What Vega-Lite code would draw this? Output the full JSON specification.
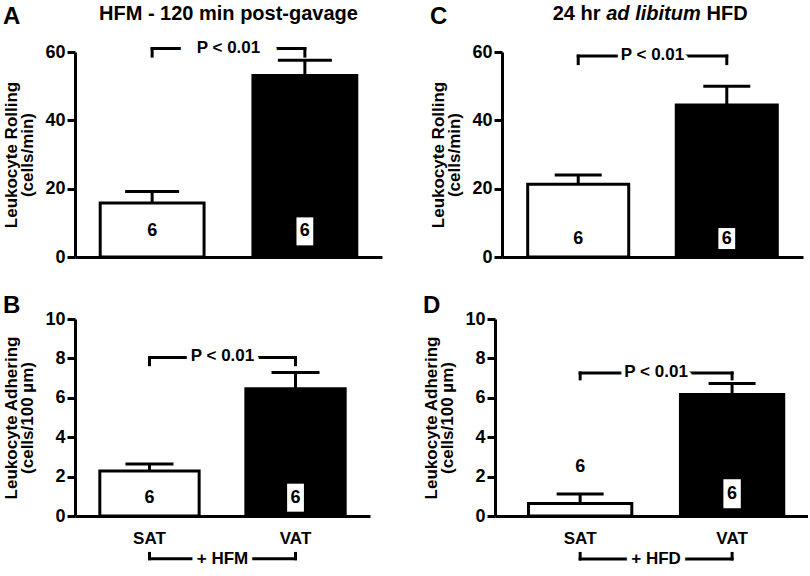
{
  "$schema": "https://vega.github.io/schema/vega-lite/v6.json",
  "background": "white",
  "padding": {"left": 2, "top": 3, "right": 0, "bottom": 0},
  "config": {
    "view": {"stroke": null},
    "font": "Liberation Sans",
    "axis": {"domainColor": "black", "domainWidth": 3, "tickColor": "black", "tickWidth": 3, "tickSize": 8, "labelFont": "Liberation Sans", "labelFontSize": 18, "labelFontWeight": "bold", "labelColor": "black", "labelPadding": 2, "labelOverlap": false, "labelFlush": false, "titleFont": "Liberation Sans", "titleFontSize": 17, "titleFontWeight": "bold", "titleColor": "black", "titlePadding": 8, "titleLineHeight": 16, "grid": false},
    "axisY": {"tickCount": 12},
    "axisX": {"ticks": false, "tickSize": 0, "labelFontSize": 17, "labelPadding": 14, "labelAngle": 0},
    "text": {"font": "Liberation Sans", "fontWeight": "bold", "color": "black", "fontSize": 17},
    "title": {"font": "Liberation Sans", "fontSize": 24, "fontWeight": "bold", "color": "black", "anchor": "start", "frame": "bounds"}
  },
  "datasets": {
    "bars": [
      {"panel": "A", "group": "SAT", "value": 15.8, "err": 19.2, "n": 6},
      {"panel": "A", "group": "VAT", "value": 53.1, "err": 57.6, "n": 6},
      {"panel": "B", "group": "SAT", "value": 2.28, "err": 2.64, "n": 6},
      {"panel": "B", "group": "VAT", "value": 6.46, "err": 7.29, "n": 6},
      {"panel": "C", "group": "SAT", "value": 21.3, "err": 24.0, "n": 6},
      {"panel": "C", "group": "VAT", "value": 44.5, "err": 50.0, "n": 6},
      {"panel": "D", "group": "SAT", "value": 0.64, "err": 1.12, "n": 6},
      {"panel": "D", "group": "VAT", "value": 6.17, "err": 6.73, "n": 6}
    ],
    "pair": [{"group": "SAT", "group2": "VAT"}],
    "ends": [{"group": "SAT"}, {"group": "VAT"}],
    "mid": [{"group": "SAT"}]
  },
  "spacing": 28,
  "vconcat": [
    {
      "spacing": 47,
      "hconcat": [
        {
          "width": 307, "height": 205,
          "title": {"text": "A", "offset": -25},
          "layer": [
            {"data": {"name": "bars"}, "transform": [{"filter": "datum.panel === 'A'"}],
             "mark": {"type": "bar", "stroke": "black", "strokeWidth": 3},
             "encoding": {
               "x": {"field": "group", "type": "nominal", "scale": {"domain": ["SAT", "VAT"], "paddingInner": 0.32, "paddingOuter": 0.165}, "axis": {"title": null, "labels": false}},
               "y": {"field": "value", "type": "quantitative", "scale": {"domain": [0, 60], "nice": false}, "axis": {"values": [0, 20, 40, 60], "title": ["Leukocyte Rolling", "(cells/min)"]}},
               "fill": {"field": "group", "type": "nominal", "scale": {"domain": ["SAT", "VAT"], "range": ["white", "black"]}, "legend": null}
             }},
            {"data": {"name": "bars"}, "transform": [{"filter": "datum.panel === 'A'"}],
             "mark": {"type": "rule", "strokeWidth": 3, "color": "black"},
             "encoding": {"x": {"field": "group", "type": "nominal"}, "y": {"field": "value", "type": "quantitative"}, "y2": {"field": "err"}}},
            {"data": {"name": "bars"}, "transform": [{"filter": "datum.panel === 'A'"}],
             "mark": {"type": "tick", "size": 54, "thickness": 3, "color": "black", "opacity": 1},
             "encoding": {"x": {"field": "group", "type": "nominal"}, "y": {"field": "err", "type": "quantitative"}}},
            {"data": {"name": "bars"}, "transform": [{"filter": "datum.panel === 'A' && datum.group === 'VAT'"}],
             "mark": {"type": "point", "shape": "M-0.6,-1H0.6V1H-0.6Z", "size": 784, "filled": true, "color": "white", "opacity": 1, "strokeWidth": 0},
             "encoding": {"x": {"field": "group", "type": "nominal"}, "y": {"datum": 7.5}}},
            {"data": {"name": "bars"}, "transform": [{"filter": "datum.panel === 'A'"}],
             "mark": {"type": "text", "fontSize": 18},
             "encoding": {"x": {"field": "group", "type": "nominal"}, "y": {"datum": 7.5}, "text": {"field": "n"}}},
            {"data": {"name": "pair"},
             "mark": {"type": "rule", "strokeWidth": 3, "strokeCap": "square", "color": "black"},
             "encoding": {"x": {"field": "group", "type": "nominal"}, "x2": {"field": "group2"}, "y": {"datum": 61}}},
            {"data": {"name": "ends"},
             "mark": {"type": "rule", "strokeWidth": 3, "strokeCap": "square", "color": "black"},
             "encoding": {"x": {"field": "group", "type": "nominal"}, "y": {"datum": 58.8}, "y2": {"datum": 61}}},
            {"data": {"name": "mid"},
             "mark": {"type": "text", "text": "P < 0.01", "fontSize": 17, "color": "white", "stroke": "white", "strokeWidth": 34, "strokeJoin": "round"},
             "encoding": {"x": {"field": "group", "type": "nominal", "bandPosition": 1.235}, "y": {"datum": 61.3}}},
            {"data": {"name": "mid"},
             "mark": {"type": "text", "text": "P < 0.01", "fontSize": 17, "color": "black"},
             "encoding": {"x": {"field": "group", "type": "nominal", "bandPosition": 1.235}, "y": {"datum": 61.3}}},
            {"data": {"name": "mid"},
             "mark": {"type": "text", "text": "HFM - 120 min post-gavage", "fontSize": 20, "color": "black"},
             "encoding": {"x": {"field": "group", "type": "nominal", "bandPosition": 1.235}, "y": {"datum": 71.2}}}
          ]
        },
        {
          "width": 301, "height": 205,
          "title": {"text": "C", "offset": -25},
          "layer": [
            {"data": {"name": "bars"}, "transform": [{"filter": "datum.panel === 'C'"}],
             "mark": {"type": "bar", "stroke": "black", "strokeWidth": 3},
             "encoding": {
               "x": {"field": "group", "type": "nominal", "scale": {"domain": ["SAT", "VAT"], "paddingInner": 0.32, "paddingOuter": 0.173}, "axis": {"title": null, "labels": false}},
               "y": {"field": "value", "type": "quantitative", "scale": {"domain": [0, 60], "nice": false}, "axis": {"values": [0, 20, 40, 60], "title": ["Leukocyte Rolling", "(cells/min)"]}},
               "fill": {"field": "group", "type": "nominal", "scale": {"domain": ["SAT", "VAT"], "range": ["white", "black"]}, "legend": null}
             }},
            {"data": {"name": "bars"}, "transform": [{"filter": "datum.panel === 'C'"}],
             "mark": {"type": "rule", "strokeWidth": 3, "color": "black"},
             "encoding": {"x": {"field": "group", "type": "nominal"}, "y": {"field": "value", "type": "quantitative"}, "y2": {"field": "err"}}},
            {"data": {"name": "bars"}, "transform": [{"filter": "datum.panel === 'C'"}],
             "mark": {"type": "tick", "size": 47, "thickness": 3, "color": "black", "opacity": 1},
             "encoding": {"x": {"field": "group", "type": "nominal"}, "y": {"field": "err", "type": "quantitative"}}},
            {"data": {"name": "bars"}, "transform": [{"filter": "datum.panel === 'C' && datum.group === 'VAT'"}],
             "mark": {"type": "point", "shape": "M-0.8,-1H0.8V1H-0.8Z", "size": 441, "filled": true, "color": "white", "opacity": 1, "strokeWidth": 0},
             "encoding": {"x": {"field": "group", "type": "nominal"}, "y": {"datum": 5.4}}},
            {"data": {"name": "bars"}, "transform": [{"filter": "datum.panel === 'C'"}],
             "mark": {"type": "text", "fontSize": 18},
             "encoding": {"x": {"field": "group", "type": "nominal"}, "y": {"datum": 5.4}, "text": {"field": "n"}}},
            {"data": {"name": "pair"},
             "mark": {"type": "rule", "strokeWidth": 3, "strokeCap": "square", "color": "black"},
             "encoding": {"x": {"field": "group", "type": "nominal"}, "x2": {"field": "group2"}, "y": {"datum": 58.8}}},
            {"data": {"name": "ends"},
             "mark": {"type": "rule", "strokeWidth": 3, "strokeCap": "square", "color": "black"},
             "encoding": {"x": {"field": "group", "type": "nominal"}, "y": {"datum": 56.6}, "y2": {"datum": 58.8}}},
            {"data": {"name": "mid"},
             "mark": {"type": "text", "text": "P < 0.01", "fontSize": 17, "color": "white", "stroke": "white", "strokeWidth": 8, "strokeJoin": "round"},
             "encoding": {"x": {"field": "group", "type": "nominal", "bandPosition": 1.235}, "y": {"datum": 59.1}}},
            {"data": {"name": "mid"},
             "mark": {"type": "text", "text": "P < 0.01", "fontSize": 17, "color": "black"},
             "encoding": {"x": {"field": "group", "type": "nominal", "bandPosition": 1.235}, "y": {"datum": 59.1}}},
            {"data": {"name": "mid"},
             "mark": {"type": "text", "text": "24 hr", "fontSize": 20, "color": "black", "align": "right", "dx": -52},
             "encoding": {"x": {"field": "group", "type": "nominal", "bandPosition": 1.235}, "y": {"datum": 71.2}}},
            {"data": {"name": "mid"},
             "mark": {"type": "text", "text": "ad libitum", "fontSize": 20, "fontStyle": "italic", "color": "black", "dx": 1},
             "encoding": {"x": {"field": "group", "type": "nominal", "bandPosition": 1.235}, "y": {"datum": 71.2}}},
            {"data": {"name": "mid"},
             "mark": {"type": "text", "text": "HFD", "fontSize": 20, "color": "black", "align": "left", "dx": 54},
             "encoding": {"x": {"field": "group", "type": "nominal", "bandPosition": 1.235}, "y": {"datum": 71.2}}}
          ]
        }
      ]
    },
    {
      "spacing": 52,
      "hconcat": [
        {
          "width": 295, "height": 197,
          "title": {"text": "B", "offset": -8},
          "layer": [
            {"data": {"name": "bars"}, "transform": [{"filter": "datum.panel === 'B'"}],
             "mark": {"type": "bar", "stroke": "black", "strokeWidth": 3},
             "encoding": {
               "x": {"field": "group", "type": "nominal", "scale": {"domain": ["SAT", "VAT"], "paddingInner": 0.32, "paddingOuter": 0.17}, "axis": {"title": null}},
               "y": {"field": "value", "type": "quantitative", "scale": {"domain": [0, 10], "nice": false}, "axis": {"values": [0, 2, 4, 6, 8, 10], "tickCount": 12, "title": ["Leukocyte Adhering", "(cells/100 µm)"]}},
               "fill": {"field": "group", "type": "nominal", "scale": {"domain": ["SAT", "VAT"], "range": ["white", "black"]}, "legend": null}
             }},
            {"data": {"name": "bars"}, "transform": [{"filter": "datum.panel === 'B'"}],
             "mark": {"type": "rule", "strokeWidth": 3, "color": "black"},
             "encoding": {"x": {"field": "group", "type": "nominal"}, "y": {"field": "value", "type": "quantitative"}, "y2": {"field": "err"}}},
            {"data": {"name": "bars"}, "transform": [{"filter": "datum.panel === 'B'"}],
             "mark": {"type": "tick", "size": 48, "thickness": 3, "color": "black", "opacity": 1},
             "encoding": {"x": {"field": "group", "type": "nominal"}, "y": {"field": "err", "type": "quantitative"}}},
            {"data": {"name": "bars"}, "transform": [{"filter": "datum.panel === 'B' && datum.group === 'VAT'"}],
             "mark": {"type": "point", "shape": "M-0.6,-1H0.6V1H-0.6Z", "size": 784, "filled": true, "color": "white", "opacity": 1, "strokeWidth": 0},
             "encoding": {"x": {"field": "group", "type": "nominal"}, "y": {"datum": 0.93}}},
            {"data": {"name": "bars"}, "transform": [{"filter": "datum.panel === 'B'"}],
             "mark": {"type": "text", "fontSize": 18},
             "encoding": {"x": {"field": "group", "type": "nominal"}, "y": {"datum": 0.93}, "text": {"field": "n"}}},
            {"data": {"name": "pair"},
             "mark": {"type": "rule", "strokeWidth": 3, "strokeCap": "square", "color": "black"},
             "encoding": {"x": {"field": "group", "type": "nominal"}, "x2": {"field": "group2"}, "y": {"datum": 8.04}}},
            {"data": {"name": "ends"},
             "mark": {"type": "rule", "strokeWidth": 3, "strokeCap": "square", "color": "black"},
             "encoding": {"x": {"field": "group", "type": "nominal"}, "y": {"datum": 7.68}, "y2": {"datum": 8.04}}},
            {"data": {"name": "mid"},
             "mark": {"type": "text", "text": "P < 0.01", "fontSize": 17, "color": "white", "stroke": "white", "strokeWidth": 10, "strokeJoin": "round"},
             "encoding": {"x": {"field": "group", "type": "nominal", "bandPosition": 1.235}, "y": {"datum": 8.1}}},
            {"data": {"name": "mid"},
             "mark": {"type": "text", "text": "P < 0.01", "fontSize": 17, "color": "black"},
             "encoding": {"x": {"field": "group", "type": "nominal", "bandPosition": 1.235}, "y": {"datum": 8.1}}},
            {"data": {"name": "pair"},
             "mark": {"type": "rule", "strokeWidth": 3, "strokeCap": "square", "color": "black"},
             "encoding": {"x": {"field": "group", "type": "nominal"}, "x2": {"field": "group2"}, "y": {"datum": -2.17}}},
            {"data": {"name": "ends"},
             "mark": {"type": "rule", "strokeWidth": 3, "strokeCap": "square", "color": "black"},
             "encoding": {"x": {"field": "group", "type": "nominal"}, "y": {"datum": -1.9}, "y2": {"datum": -2.17}}},
            {"data": {"name": "mid"},
             "mark": {"type": "text", "text": "+ HFM", "fontSize": 17, "color": "white", "stroke": "white", "strokeWidth": 10, "strokeJoin": "round"},
             "encoding": {"x": {"field": "group", "type": "nominal", "bandPosition": 1.235}, "y": {"datum": -2.17}}},
            {"data": {"name": "mid"},
             "mark": {"type": "text", "text": "+ HFM", "fontSize": 17, "color": "black"},
             "encoding": {"x": {"field": "group", "type": "nominal", "bandPosition": 1.235}, "y": {"datum": -2.17}}}
          ]
        },
        {
          "width": 313, "height": 197,
          "title": {"text": "D", "offset": -8},
          "layer": [
            {"data": {"name": "bars"}, "transform": [{"filter": "datum.panel === 'D'"}],
             "mark": {"type": "bar", "stroke": "black", "strokeWidth": 3},
             "encoding": {
               "x": {"field": "group", "type": "nominal", "scale": {"domain": ["SAT", "VAT"], "paddingInner": 0.32, "paddingOuter": 0.19, "align": 0.58}, "axis": {"title": null}},
               "y": {"field": "value", "type": "quantitative", "scale": {"domain": [0, 10], "nice": false}, "axis": {"values": [0, 2, 4, 6, 8, 10], "tickCount": 12, "title": ["Leukocyte Adhering", "(cells/100 µm)"]}},
               "fill": {"field": "group", "type": "nominal", "scale": {"domain": ["SAT", "VAT"], "range": ["white", "black"]}, "legend": null}
             }},
            {"data": {"name": "bars"}, "transform": [{"filter": "datum.panel === 'D'"}],
             "mark": {"type": "rule", "strokeWidth": 3, "color": "black"},
             "encoding": {"x": {"field": "group", "type": "nominal"}, "y": {"field": "value", "type": "quantitative"}, "y2": {"field": "err"}}},
            {"data": {"name": "bars"}, "transform": [{"filter": "datum.panel === 'D'"}],
             "mark": {"type": "tick", "size": 47, "thickness": 3, "color": "black", "opacity": 1},
             "encoding": {"x": {"field": "group", "type": "nominal"}, "y": {"field": "err", "type": "quantitative"}}},
            {"data": {"name": "bars"}, "transform": [{"filter": "datum.panel === 'D' && datum.group === 'VAT'"}],
             "mark": {"type": "point", "shape": "M-0.6,-1H0.6V1H-0.6Z", "size": 841, "filled": true, "color": "white", "opacity": 1, "strokeWidth": 0},
             "encoding": {"x": {"field": "group", "type": "nominal"}, "y": {"datum": 1.13}}},
            {"data": {"name": "bars"}, "transform": [{"filter": "datum.panel === 'D' && datum.group === 'VAT'"}],
             "mark": {"type": "text", "fontSize": 18},
             "encoding": {"x": {"field": "group", "type": "nominal"}, "y": {"datum": 1.13}, "text": {"field": "n"}}},
            {"data": {"name": "bars"}, "transform": [{"filter": "datum.panel === 'D' && datum.group === 'SAT'"}],
             "mark": {"type": "text", "fontSize": 18},
             "encoding": {"x": {"field": "group", "type": "nominal"}, "y": {"datum": 2.5}, "text": {"field": "n"}}},
            {"data": {"name": "pair"},
             "mark": {"type": "rule", "strokeWidth": 3, "strokeCap": "square", "color": "black"},
             "encoding": {"x": {"field": "group", "type": "nominal"}, "x2": {"field": "group2"}, "y": {"datum": 7.26}}},
            {"data": {"name": "ends"},
             "mark": {"type": "rule", "strokeWidth": 3, "strokeCap": "square", "color": "black"},
             "encoding": {"x": {"field": "group", "type": "nominal"}, "y": {"datum": 6.96}, "y2": {"datum": 7.26}}},
            {"data": {"name": "mid"},
             "mark": {"type": "text", "text": "P < 0.01", "fontSize": 17, "color": "white", "stroke": "white", "strokeWidth": 8, "strokeJoin": "round"},
             "encoding": {"x": {"field": "group", "type": "nominal", "bandPosition": 1.235}, "y": {"datum": 7.3}}},
            {"data": {"name": "mid"},
             "mark": {"type": "text", "text": "P < 0.01", "fontSize": 17, "color": "black"},
             "encoding": {"x": {"field": "group", "type": "nominal", "bandPosition": 1.235}, "y": {"datum": 7.3}}},
            {"data": {"name": "pair"},
             "mark": {"type": "rule", "strokeWidth": 3, "strokeCap": "square", "color": "black"},
             "encoding": {"x": {"field": "group", "type": "nominal"}, "x2": {"field": "group2"}, "y": {"datum": -2.18}}},
            {"data": {"name": "ends"},
             "mark": {"type": "rule", "strokeWidth": 3, "strokeCap": "square", "color": "black"},
             "encoding": {"x": {"field": "group", "type": "nominal"}, "y": {"datum": -1.9}, "y2": {"datum": -2.18}}},
            {"data": {"name": "mid"},
             "mark": {"type": "text", "text": "+ HFD", "fontSize": 17, "color": "white", "stroke": "white", "strokeWidth": 10, "strokeJoin": "round"},
             "encoding": {"x": {"field": "group", "type": "nominal", "bandPosition": 1.235}, "y": {"datum": -2.18}}},
            {"data": {"name": "mid"},
             "mark": {"type": "text", "text": "+ HFD", "fontSize": 17, "color": "black"},
             "encoding": {"x": {"field": "group", "type": "nominal", "bandPosition": 1.235}, "y": {"datum": -2.18}}}
          ]
        }
      ]
    }
  ]
}
